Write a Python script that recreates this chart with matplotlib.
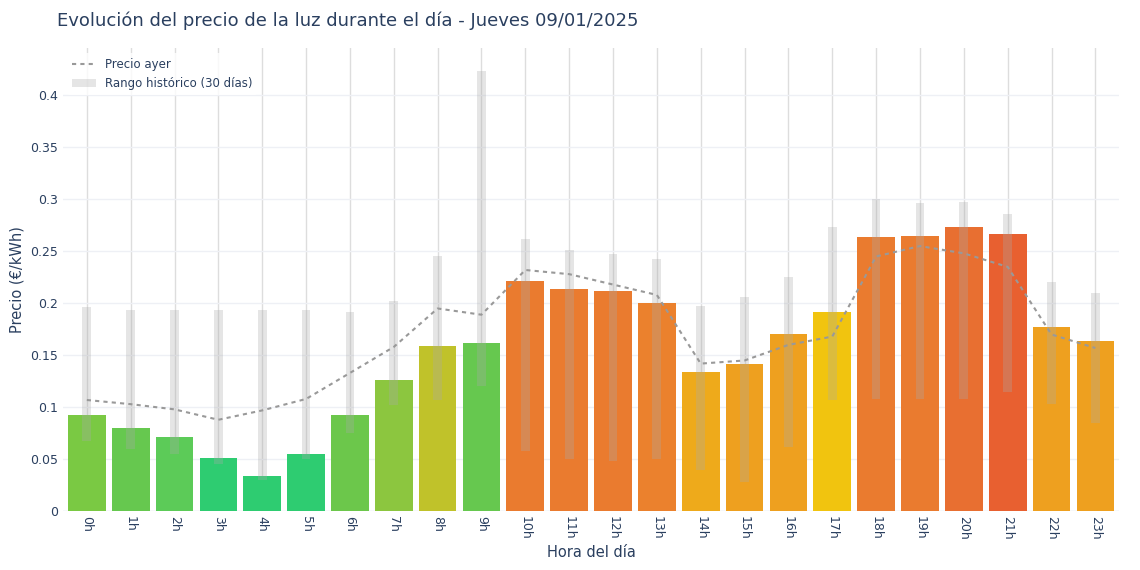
import numpy as np
import matplotlib.pyplot as plt

hours = [f"{h}h" for h in range(24)]
precio = [0.093, 0.080, 0.071, 0.051, 0.034, 0.055, 0.093, 0.126, 0.159, 0.162,
          0.221, 0.214, 0.212, 0.200, 0.134, 0.142, 0.170, 0.192, 0.264, 0.265,
          0.273, 0.267, 0.177, 0.164]
precio_ayer = [0.107, 0.103, 0.098, 0.088, 0.097, 0.108, 0.133, 0.158, 0.195, 0.189,
               0.232, 0.228, 0.218, 0.208, 0.142, 0.145, 0.160, 0.168, 0.245, 0.255,
               0.248, 0.235, 0.170, 0.157]
hist_min = [0.068, 0.060, 0.055, 0.045, 0.030, 0.050, 0.075, 0.102, 0.107, 0.120,
            0.058, 0.050, 0.048, 0.050, 0.040, 0.028, 0.062, 0.107, 0.108, 0.108,
            0.108, 0.115, 0.103, 0.085]
hist_max = [0.196, 0.194, 0.194, 0.194, 0.194, 0.194, 0.192, 0.202, 0.245, 0.423,
            0.262, 0.251, 0.247, 0.243, 0.197, 0.206, 0.225, 0.273, 0.300, 0.296,
            0.297, 0.286, 0.220, 0.210]
colors = ["#7ac943", "#66c84f", "#5ccb58", "#2ecc71", "#2ecc71", "#2ecc71", "#6cc74b",
          "#8cc63f", "#c0c22a", "#66c84f", "#ea7b2f", "#ea7b2f", "#ea7b2f", "#eb812d",
          "#eeaa1b", "#eea01f", "#eea01f", "#f1c40f", "#ea7b2f", "#ea7b2f", "#e86f31",
          "#e86030", "#eea01f", "#eea01f"]

text_col = "#2a3f5f"
fig, ax = plt.subplots(figsize=(11.4, 5.7), dpi=100)
fig.subplots_adjust(left=0.055, right=0.982, top=0.915, bottom=0.103)
x = np.arange(len(hours))

for xi in x:
    ax.axvline(xi, color="#dddddd", lw=1, zorder=0)
ax.bar(x, precio, width=0.86, color=colors, zorder=2)
ax.bar(x, np.array(hist_max) - np.array(hist_min), bottom=hist_min, width=0.2,
       color="#aaaaaa", alpha=0.3, zorder=3, label="Rango histórico (30 días)")
ax.plot(x, precio_ayer, color="#999999", ls=(0, (2, 2)), lw=1.5, zorder=4,
        label="Precio ayer")

ax.set_xlim(-0.55, 23.55)
ax.set_ylim(0, 0.445)
ax.set_yticks([0, 0.05, 0.1, 0.15, 0.2, 0.25, 0.3, 0.35, 0.4])
ax.set_yticklabels(["0", "0.05", "0.1", "0.15", "0.2", "0.25", "0.3", "0.35", "0.4"])
ax.set_xticks(x)
ax.set_xticklabels(hours, rotation=-90)
ax.tick_params(colors=text_col, labelsize=9, length=0)
ax.grid(axis="y", color="#eef0f5", lw=1)
ax.set_axisbelow(True)
for s in ax.spines.values():
    s.set_visible(False)
ax.axhline(0, color="#e5e8ef", lw=1, zorder=1)
ax.set_xlabel("Hora del día", color=text_col, fontsize=10.5)
ax.set_ylabel("Precio (€/kWh)", color=text_col, fontsize=10.5)
fig.text(0.05, 0.955, "Evolución del precio de la luz durante el día - Jueves 09/01/2025",
         color=text_col, fontsize=13)
leg = ax.legend(loc="upper left", frameon=True, fontsize=8.5, labelcolor=text_col,
                bbox_to_anchor=(0.0, 1.0), borderaxespad=0.4)
leg.get_frame().set_facecolor("white")
leg.get_frame().set_edgecolor("none")
fig.savefig("out.png")
